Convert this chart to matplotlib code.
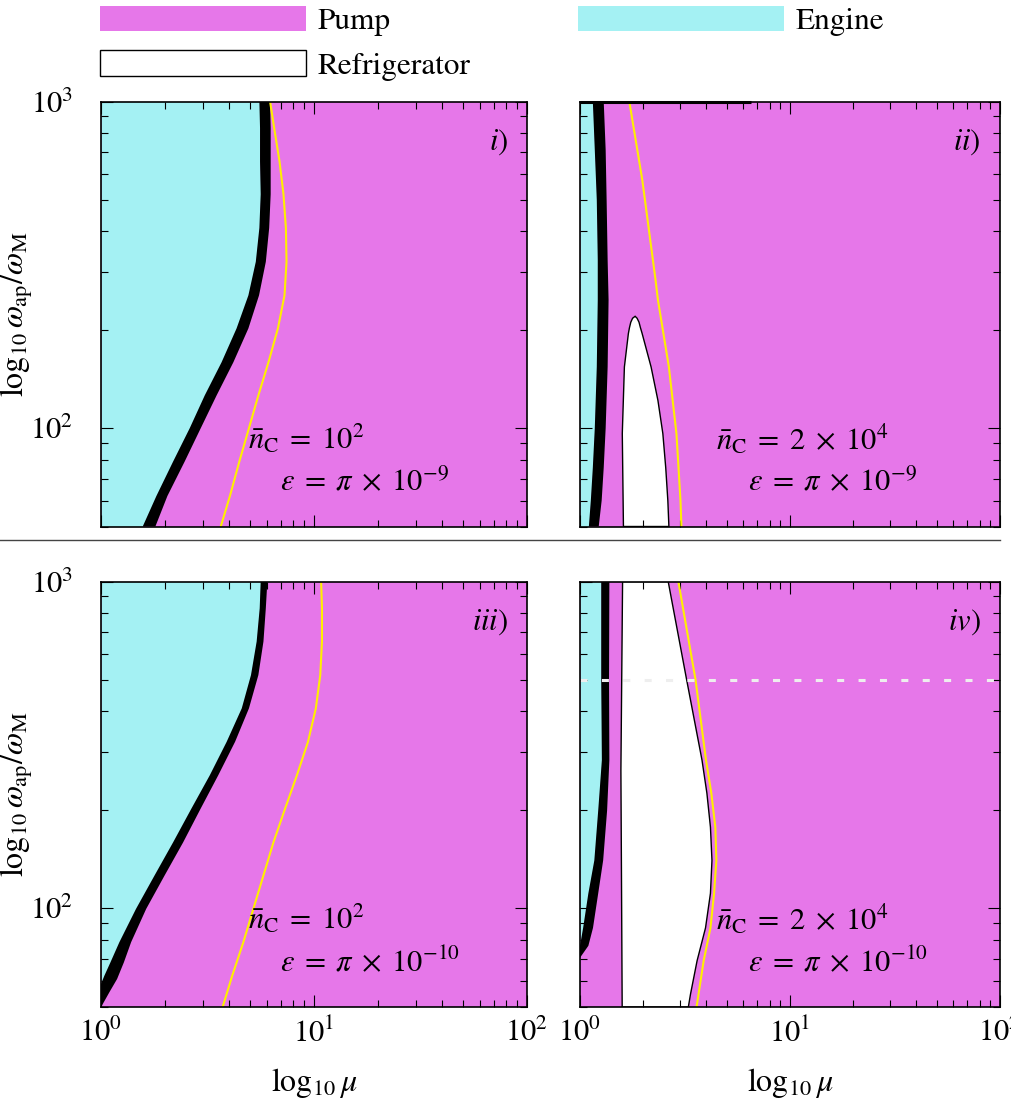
import numpy as np
import matplotlib.pyplot as plt
from matplotlib.patches import Patch
from matplotlib.lines import Line2D
from matplotlib.ticker import NullFormatter

plt.rcParams['font.family'] = 'STIXGeneral'
plt.rcParams['mathtext.fontset'] = 'stix'

PUMP = '#e677e9'
ENGINE = '#a4f1f3'
YELLOW = '#fff000'

# --- panel i) : n_C = 1e2, eps = pi 1e-9 ---
w_i = [1000, 830, 655, 520, 410, 323, 255, 202, 159, 126, 100, 79, 62, 50]
eng_i = [5.54, 5.58, 5.58, 5.62, 5.54, 5.33, 4.92, 4.33, 3.68, 3.07, 2.61, 2.18, 1.82, 1.57]
pump_i = [6.22, 6.26, 6.26, 6.26, 6.16, 5.94, 5.52, 4.92, 4.18, 3.49, 2.94, 2.47, 2.05, 1.80]
yel_i = [6.22, 6.50, 6.89, 7.19, 7.38, 7.43, 7.27, 6.77, 6.11, 5.48, 4.95, 4.46, 4.03, 3.65]

# --- panel ii) : n_C = 2e4, eps = pi 1e-9 ---
w_ii = [1000, 711, 500, 327, 247, 154, 100, 75.7, 60, 50]
eng_ii = [1.151, 1.176, 1.202, 1.215, 1.215, 1.202, 1.176, 1.151, 1.126, 1.102]
pump_ii = [1.297, 1.325, 1.339, 1.354, 1.368, 1.354, 1.325, 1.297, 1.268, 1.228]
w_ref_ii_l = [220, 217, 211, 203, 195, 154, 96.3, 50]
ref_ii_l = [1.83, 1.78, 1.745, 1.72, 1.70, 1.627, 1.59, 1.61]
w_ref_ii_r = [220, 217, 211, 203, 195, 154, 121.6, 96.3, 75.7, 60, 50]
ref_ii_r = [1.83, 1.87, 1.91, 1.94, 1.976, 2.18, 2.35, 2.48, 2.56, 2.62, 2.65]
w_yel_ii = [1000, 575, 284, 247, 154, 96, 60, 50]
yel_ii = [1.717, 1.98, 2.29, 2.35, 2.65, 2.88, 3.01, 3.04]

# --- panel iii) : n_C = 1e2, eps = pi 1e-10 ---
w_iii_l = [1000, 828, 655, 517, 409, 323, 255, 202, 159, 126, 99.5, 78.7, 68.2, 62.1, 58.6]
eng_iii = [5.62, 5.56, 5.38, 5.06, 4.58, 3.89, 3.24, 2.66, 2.18, 1.785, 1.46, 1.22, 1.107, 1.037, 1.0]
w_iii_r = [1000, 828, 655, 517, 409, 323, 255, 202, 159, 126, 99.5, 78.7, 68.2, 60.7, 55.3, 51.5, 49.7]
pump_iii = [6.04, 5.94, 5.79, 5.48, 4.95, 4.26, 3.55, 2.94, 2.43, 1.99, 1.63, 1.385, 1.28, 1.19, 1.095, 1.03, 1.0]
w_yel_iii = [1000, 828, 655, 517, 409, 323, 255, 202, 159, 126, 99.5, 78.7, 62.1, 49.7]
yel_iii = [10.8, 10.9, 10.9, 10.7, 10.2, 9.37, 8.31, 7.32, 6.45, 5.79, 5.19, 4.66, 4.13, 3.72]

# --- panel iv) : n_C = 2e4, eps = pi 1e-10 ---
w_iv_l = [1000, 500, 284, 199, 140, 111, 87, 76.7]
eng_iv = [1.262, 1.262, 1.271, 1.221, 1.170, 1.096, 1.035, 1.0]
w_iv_r = [1000, 500, 284, 199, 140, 111, 87, 76.7, 70.5]
pump_iv = [1.380, 1.375, 1.380, 1.346, 1.289, 1.221, 1.153, 1.096, 1.0]
w_ref_iv_l = [1000, 264, 49.8]
ref_iv_l = [1.595, 1.566, 1.588]
w_ref_iv_r = [1000, 500, 284, 225, 177, 140, 111, 87, 69, 54.6, 49.8]
ref_iv_r = [2.63, 3.22, 3.81, 4.02, 4.18, 4.25, 4.18, 3.96, 3.61, 3.36, 3.28]
w_yel_iv = [1000, 500, 284, 225, 177, 140, 111, 87, 69, 49.8]
yel_iv = [2.94, 3.55, 3.98, 4.22, 4.41, 4.46, 4.35, 4.18, 3.88, 3.59]
w_cut = 500


def setup(ax, xlab, ylab):
    ax.set_facecolor(PUMP)
    ax.set_xscale('log')
    ax.set_yscale('log')
    ax.set_xlim(1, 100)
    ax.set_ylim(50, 1000)
    ax.yaxis.set_minor_formatter(NullFormatter())
    ax.xaxis.set_minor_formatter(NullFormatter())
    ax.tick_params(which='both', direction='in', top=True, right=True,
                   width=0.8, labelsize=22)
    ax.tick_params(which='major', length=8.5)
    ax.tick_params(which='minor', length=5)
    ax.tick_params(axis='x', pad=9)
    ax.tick_params(axis='y', pad=20)
    for s in ax.spines.values():
        s.set_linewidth(1.2)
    if not xlab:
        ax.tick_params(labelbottom=False)
    else:
        ax.set_xlabel(r'$\log_{10}\mu$', fontsize=23)
        ax.xaxis.set_label_coords(0.5, -0.14)
    if not ylab:
        ax.tick_params(labelleft=False)
    else:
        ax.set_ylabel(r'$\log_{10}\omega_{\rm ap}/\omega_{\rm M}$', fontsize=23)
        ax.yaxis.set_label_coords(-0.155, 0.5)


def band(ax, wl, xl, wr, xr):
    # engine region up to the boundary band, then the black band itself
    ax.fill_betweenx(wl, 1, xl, color=ENGINE, lw=0)
    ax.fill(list(xl) + list(xr)[::-1], list(wl) + list(wr)[::-1], color='k', lw=0)


def fridge(ax, wl, xl, wr, xr):
    ax.fill(list(xl) + list(xr)[::-1], list(wl) + list(wr)[::-1],
            facecolor='white', edgecolor='k', lw=1)


fig = plt.figure(figsize=(10.12, 11.11), dpi=100)
W, H = 426 / 1012, 425 / 1111
W2 = 420 / 1012
x0, x1 = 101 / 1012, 580 / 1012
y0, y1 = 1 - 526.5 / 1111, 1 - 1006.5 / 1111

ax1 = fig.add_axes([x0, y0, W, H])
ax2 = fig.add_axes([x1, y0, W2, H])
ax3 = fig.add_axes([x0, y1, W, H])
ax4 = fig.add_axes([x1, y1, W2, H])
setup(ax1, False, True)
setup(ax2, False, False)
setup(ax3, True, True)
setup(ax4, True, False)

band(ax1, w_i, eng_i, w_i, pump_i)
ax1.plot(yel_i, w_i, color=YELLOW, lw=1.5)

band(ax2, w_ii, eng_ii, w_ii, pump_ii)
fridge(ax2, w_ref_ii_l, ref_ii_l, w_ref_ii_r, ref_ii_r)
ax2.plot(yel_ii, w_yel_ii, color=YELLOW, lw=1.5)
ax2.plot([1, 6.5], [1000, 1000], color='k', lw=2.2, clip_on=False,
         solid_capstyle='butt')

band(ax3, w_iii_l, eng_iii, w_iii_r, pump_iii)
ax3.plot(yel_iii, w_yel_iii, color=YELLOW, lw=1.5)

band(ax4, w_iv_l, eng_iv, w_iv_r, pump_iv)
fridge(ax4, w_ref_iv_l, ref_iv_l, w_ref_iv_r, ref_iv_r)
ax4.plot(yel_iv, w_yel_iv, color=YELLOW, lw=1.5)
ax4.axhline(w_cut, color='#eeeeee', lw=2.2, ls=(0, (2.3, 4.7)))

tags = ['i', 'ii', 'iii', 'iv']
nC = [r'$\bar{n}_{\rm C}\;=\;10^2$', r'$\bar{n}_{\rm C}\;=\;2\;\times\;10^4$'] * 2
eps = [r'$\varepsilon\;=\;\pi\;\times\;10^{-9}$'] * 2 + [r'$\varepsilon\;=\;\pi\;\times\;10^{-10}$'] * 2
for k, ax in enumerate([ax1, ax2, ax3, ax4]):
    ax.text(0.955, 0.905, '$%s$)' % tags[k], transform=ax.transAxes,
            ha='right', va='center', fontsize=22)
    xa = 0.345 if k % 2 == 0 else 0.324
    ax.text(xa, 0.205, nC[k], transform=ax.transAxes, ha='left', va='center', fontsize=22)
    ax.text(xa + 0.075, 0.103, eps[k], transform=ax.transAxes, ha='left', va='center',
            fontsize=22)

fig.add_artist(Line2D([0, 0.988], [1 - 540 / 1111] * 2, color='#444444', lw=1,
                      transform=fig.transFigure))

handles = [Patch(facecolor=PUMP, edgecolor='none', label='Pump'),
           Patch(facecolor='white', edgecolor='k', lw=1, label='Refrigerator'),
           Patch(facecolor=ENGINE, edgecolor='none', label='Engine')]
fig.legend(handles=handles, ncol=2, loc='upper left',
           bbox_to_anchor=(100 / 1012, 1 - 6 / 1111), frameon=False,
           fontsize=22.5, handlelength=6.6, handleheight=0.86, handletextpad=0.35,
           labelspacing=0.45, columnspacing=3.45, borderpad=0, borderaxespad=0)

fig.savefig('out.png', dpi=100)
